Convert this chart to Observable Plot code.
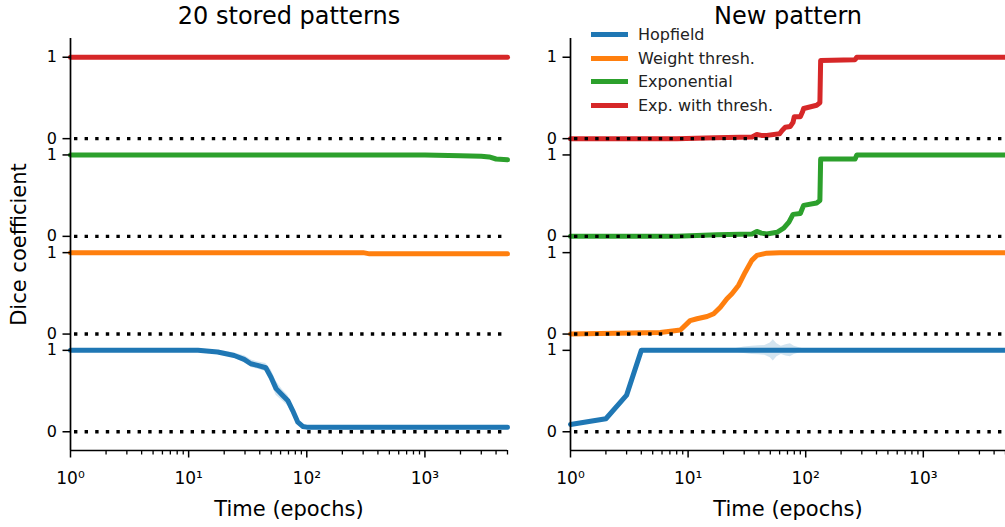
<!DOCTYPE html>
<html><head><meta charset="utf-8">
<script src="https://cdn.jsdelivr.net/npm/d3@7"></script>
<script src="https://cdn.jsdelivr.net/npm/@observablehq/plot@0.6"></script>
<style>
body{margin:0;background:#fff;font-family:"DejaVu Sans",sans-serif;}
#chart{position:relative;width:1005px;height:527px;overflow:hidden;background:#fff;}
#chart .panel{position:absolute;top:0;}
#legend{position:absolute;left:591px;top:23px;font-size:16px;color:#222;}
#legend .row{display:flex;align-items:center;height:23.5px;}
#legend .sw{display:inline-block;width:37px;height:5px;margin-right:10px;}
</style></head><body><div id="chart"></div>
<script>
// ---- data ----
const seriesNames = ["Hopfield", "Weight thresh.", "Exponential", "Exp. with thresh."];
const seriesColors = ["#1f77b4", "#ff7f0e", "#2ca02c", "#d62728"];
const panelTitles = ["20 stored patterns", "New pattern"];
const xLabel = "Time (epochs)";
const yLabel = "Dice coefficient";
const xTickMajor = [1, 10, 100, 1000];
const xTickLabels = ["10⁰", "10¹", "10²", "10³"];
const xTickMinor = [2,3,4,5,6,7,8,9,20,30,40,50,60,70,80,90,200,300,400,500,600,700,800,900,2000,3000,4000,5000];
const yTickLabels = ["0", "1"];

// Panel 1: 20 stored patterns
const storedHopfieldT = [1, 12, 17.6, 24.3, 29.5, 33.6, 38.3, 45, 49.8, 55, 62.6, 69, 76, 84, 92.5, 100, 5000];
const storedHopfieldV = [1, 1, 0.98, 0.937, 0.89, 0.835, 0.815, 0.786, 0.67, 0.53, 0.446, 0.385, 0.26, 0.118, 0.065, 0.057, 0.057];
const storedWeightT = [1, 300, 340, 5000];
const storedWeightV = [1, 1, 0.985, 0.985];
const storedExpT = [1, 1000, 2000, 3000, 3500, 4000, 5000];
const storedExpV = [1, 1, 0.99, 0.985, 0.975, 0.95, 0.94];
const storedExpThreshT = [1, 5000];
const storedExpThreshV = [1, 1];
const storedBandT  = [12, 18, 24, 30, 34, 38, 45, 50, 55, 62, 69, 76, 84, 92];
const storedBandHi = [1.0, 1.0, 0.97, 0.93, 0.88, 0.86, 0.84, 0.76, 0.62, 0.52, 0.45, 0.32, 0.16, 0.075];
const storedBandLo = [1.0, 0.96, 0.91, 0.845, 0.79, 0.77, 0.74, 0.6, 0.45, 0.38, 0.32, 0.2, 0.08, 0.055];

// Panel 2: New pattern
const newHopfieldT = [1, 2, 3, 4, 5000];
const newHopfieldV = [0.09, 0.16, 0.45, 1, 1];
const newWeightT = [1, 5.8, 8.6, 10.4, 11.9, 14.5, 16.5, 18.8, 21.4, 23.6, 26.9, 30.6, 34.8, 38.4, 46.5, 60, 5000];
const newWeightV = [0, 0.02, 0.05, 0.165, 0.188, 0.216, 0.25, 0.33, 0.434, 0.495, 0.6, 0.76, 0.905, 0.966, 0.994, 1, 1];
const newExpT = [1, 8, 17.6, 35, 38.4, 42, 46.7, 57, 65, 72, 78, 90, 96, 124, 132, 134, 263, 272, 5000];
const newExpV = [0, 0, 0.02, 0.03, 0.06, 0.04, 0.03, 0.05, 0.1, 0.175, 0.27, 0.28, 0.38, 0.41, 0.44, 0.95, 0.95, 1, 1];
const newExpThreshT = [1, 8, 17, 35, 38.4, 42, 46.7, 60, 63, 67, 74, 78, 80, 90, 94, 96, 124, 132, 134, 263, 272, 5000];
const newExpThreshV = [0, 0, 0.012, 0.02, 0.05, 0.04, 0.04, 0.06, 0.1, 0.14, 0.15, 0.2, 0.27, 0.27, 0.33, 0.37, 0.41, 0.44, 0.96, 0.97, 1, 1];
const newBandT  = [12, 18, 25, 30, 35, 40, 45, 50, 53, 57, 62, 68, 74, 80, 90, 100, 115];
const newBandHi = [1.0, 1.01, 1.02, 1.04, 1.05, 1.055, 1.06, 1.09, 1.13, 1.08, 1.05, 1.07, 1.08, 1.05, 1.03, 1.01, 1.0];
const newBandLo = [1.0, 0.99, 0.98, 0.96, 0.95, 0.945, 0.94, 0.91, 0.87, 0.92, 0.95, 0.93, 0.92, 0.95, 0.97, 0.99, 1.0];

// ---- build tables ----
const stackGap = 1.2; // vertical offset between stacked series
const panels = [
  {series: [[storedHopfieldT, storedHopfieldV], [storedWeightT, storedWeightV], [storedExpT, storedExpV], [storedExpThreshT, storedExpThreshV]],
   band: [storedBandT, storedBandLo, storedBandHi]},
  {series: [[newHopfieldT, newHopfieldV], [newWeightT, newWeightV], [newExpT, newExpV], [newExpThreshT, newExpThreshV]],
   band: [newBandT, newBandLo, newBandHi]}
];
const yTicks = [];
seriesNames.forEach((_, k) => { yTicks.push(k * stackGap, k * stackGap + 1); });
const zeroLines = seriesNames.map((_, k) => k * stackGap);
const yDomain = [-0.23, 4.83];
const xDomain = [1, 5000];

const chart = document.getElementById("chart");

function makePanel(p) {
  const spec = panels[p];
  const rows = [];
  spec.series.forEach(([ts, vs], k) => {
    ts.forEach((t, i) => rows.push({t, v: vs[i] + k * stackGap, s: seriesNames[k]}));
  });
  const [bt, blo, bhi] = spec.band;
  const band = bt.map((t, i) => ({t, lo: blo[i], hi: bhi[i]}));
  const width = p === 0 ? 520 : 505;
  const marks = [
    Plot.areaY(band, {x: "t", y1: "lo", y2: "hi", fill: seriesColors[0], fillOpacity: 0.2}),
    Plot.line(rows, {x: "t", y: "v", z: "s", stroke: "s", strokeWidth: 5, strokeLinejoin: "round"}),
    Plot.ruleY(zeroLines, {stroke: "black", strokeWidth: 3.4, strokeDasharray: "3.4,7.2", strokeDashoffset: -4}),
    Plot.ruleX([xDomain[0]], {stroke: "black", strokeWidth: 1.7}),
    Plot.ruleY([yDomain[0]], {stroke: "black", strokeWidth: 1.7}),
    Plot.axisX(xTickMinor, {tickSize: 4.5, strokeWidth: 1.3, tickFormat: () => "", label: null}),
    Plot.axisX(xTickMajor, {tickSize: 7.5, strokeWidth: 1.5, tickPadding: 14, fontSize: 17,
      tickFormat: d => xTickLabels[xTickMajor.indexOf(d)], label: null}),
    Plot.axisY(yTicks, {tickSize: 7.5, strokeWidth: 1.5, tickPadding: 6, fontSize: 16,
      tickFormat: d => yTickLabels[yTicks.indexOf(d) % 2], label: null}),
    Plot.text([panelTitles[p]], {text: d => d, frameAnchor: "top", lineAnchor: "middle", dy: -22, fontSize: 24, fill: "black"}),
    Plot.text([xLabel], {text: d => d, frameAnchor: "bottom", lineAnchor: "middle", dy: 59, fontSize: 21, fill: "black"})
  ];
  if (p === 0) marks.push(Plot.text([yLabel], {text: d => d, frameAnchor: "left", textAnchor: "middle", lineAnchor: "middle", rotate: -90, dx: -51, fontSize: 21, fill: "black"}));
  const svg = Plot.plot({
    width, height: 527,
    marginLeft: 70, marginRight: p === 0 ? 13 : 0, marginTop: 38, marginBottom: 77,
    x: {type: "log", domain: xDomain, label: null},
    y: {domain: yDomain, label: null},
    color: {domain: seriesNames, range: seriesColors},
    style: {fontFamily: "DejaVu Sans", fontSize: "17px", background: "transparent", color: "black", overflow: "visible"},
    marks
  });
  const wrap = document.createElement("div");
  wrap.className = "panel";
  wrap.style.left = (p === 0 ? 0 : 500) + "px";
  wrap.appendChild(svg);
  chart.appendChild(wrap);
}
makePanel(0);
makePanel(1);

// legend
const legend = d3.select(chart).append("div").attr("id", "legend");
seriesNames.forEach((name, k) => {
  const row = legend.append("div").attr("class", "row");
  row.append("span").attr("class", "sw").style("background", seriesColors[k]);
  row.append("span").text(name);
});
</script></body></html>
